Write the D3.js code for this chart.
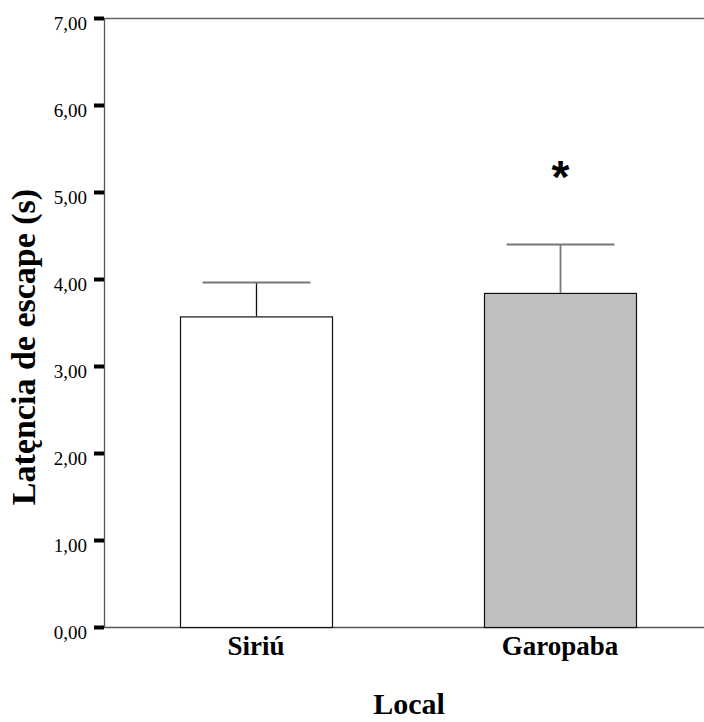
<!DOCTYPE html>
<html>
<head>
<meta charset="utf-8">
<script src="https://cdn.jsdelivr.net/npm/d3@7"></script>
<style>
  html, body { margin: 0; padding: 0; background: #fff; }
  svg { display: block; }
</style>
</head>
<body>
<svg id="chart" width="704" height="722"></svg>
<script>
const categories = ["Siriú", "Garopaba"];
const means = [3.57, 3.84];
const errors = [0.39, 0.56];
const significant = [false, true];
const yTicks = [0, 1, 2, 3, 4, 5, 6, 7];
const xTitle = "Local";
const yTitle = "Latęncia de escape (s)";

(function () {
const svg = d3.select("#chart");
const mLeft = 104, mRight = 712, mTop = 18, mBottom = 627;

const x = d3.scaleBand().domain(categories).range([mLeft, mRight])
  .paddingInner(0.5).paddingOuter(0.25);
const y = d3.scaleLinear().domain([0, 7]).range([mBottom, mTop]);

const locale = d3.formatLocale({decimal: ",", thousands: ".", grouping: [3], currency: ["", ""]});
const fmt = locale.format(".2f");

// frame lines
svg.append("line").attr("x1", mLeft).attr("x2", 704).attr("y1", mTop + 0.5).attr("y2", mTop + 0.5)
  .attr("stroke", "#666").attr("stroke-width", 1.3);
svg.append("line").attr("x1", mLeft).attr("x2", 704).attr("y1", mBottom + 0.5).attr("y2", mBottom + 0.5)
  .attr("stroke", "#555").attr("stroke-width", 1.3);

// bars
const fills = ["#ffffff", "#c0c0c0"];
svg.selectAll("rect.bar").data(categories).join("rect")
  .attr("class", "bar")
  .attr("x", d => x(d) + 0.5)
  .attr("y", (d, i) => y(means[i]) + 0.5)
  .attr("width", x.bandwidth())
  .attr("height", (d, i) => y(0) - y(means[i]))
  .attr("fill", (d, i) => fills[i])
  .attr("stroke", "#111").attr("stroke-width", 1.2);

// error bars
const capW = x.bandwidth() * 0.71;
const errColors = ["#111", "#777"];
categories.forEach((c, i) => {
  const cx = Math.round(x(c) + x.bandwidth() / 2) + 0.5;
  const ey = Math.round(y(means[i] + errors[i])) + 0.5;
  svg.append("line").attr("x1", cx).attr("x2", cx)
    .attr("y1", y(means[i])).attr("y2", ey)
    .attr("stroke", errColors[i]).attr("stroke-width", i === 1 ? 1.8 : 1.3);
  svg.append("line").attr("x1", cx - capW / 2).attr("x2", cx + capW / 2)
    .attr("y1", ey).attr("y2", ey)
    .attr("stroke", "#777").attr("stroke-width", 1.8);
  if (significant[i]) {
    svg.append("text").attr("x", cx).attr("y", ey - 52)
      .attr("text-anchor", "middle")
      .attr("font-family", "Liberation Sans, Arial, sans-serif")
      .attr("font-weight", "bold").attr("font-size", 46)
      .attr("fill", "#000").text("*");
  }
});

// y axis
const yAxis = d3.axisLeft(y).tickValues(yTicks).tickFormat(fmt).tickSize(10).tickPadding(7);
const ya = svg.append("g").attr("transform", `translate(${mLeft},0)`).call(yAxis);
ya.select(".domain").attr("stroke", "#555").attr("stroke-width", 1.3)
  .attr("d", `M0.5,${mTop}V${mBottom + 1}`);
ya.selectAll(".tick line").attr("stroke", "#000").attr("stroke-width", 4);
ya.selectAll(".tick text")
  .attr("font-family", "Liberation Serif, Times New Roman, serif")
  .attr("font-size", 19).attr("fill", "#000")
  .attr("dy", null).attr("y", 11);

// x category labels
const xAxis = d3.axisBottom(x).tickSize(0).tickPadding(0);
const xa = svg.append("g").attr("transform", `translate(0,${mBottom})`).call(xAxis);
xa.select(".domain").remove();
xa.selectAll(".tick text")
  .attr("font-family", "Liberation Serif, Times New Roman, serif")
  .attr("font-weight", "bold").attr("font-size", 27).attr("fill", "#000")
  .attr("dy", null).attr("y", 28);

// titles
svg.append("text").attr("x", 409).attr("y", 714).attr("text-anchor", "middle")
  .attr("font-family", "Liberation Serif, Times New Roman, serif")
  .attr("font-weight", "bold").attr("font-size", 30).attr("fill", "#000").text(xTitle);

svg.append("text").attr("transform", "translate(35,347) rotate(-90)").attr("text-anchor", "middle")
  .attr("font-family", "Liberation Serif, Times New Roman, serif")
  .attr("font-weight", "bold").attr("font-size", 34).attr("fill", "#000").text(yTitle);
})();
</script>
</body>
</html>
